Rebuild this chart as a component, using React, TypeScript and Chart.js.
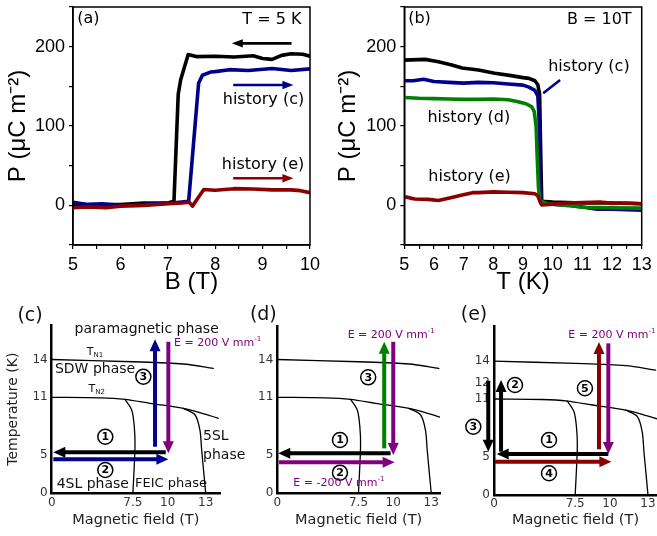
import React, { useEffect, useRef } from 'react';
import { Chart, registerables, LinearScale } from 'chart.js';

Chart.register(...registerables);

// ---------------- DATA ----------------
// Panel (a): P (uC m^-2) versus B (T) at T = 5 K
const A_BLACK_B = [5.0, 5.5, 6.0, 6.5, 7.0, 7.13, 7.22, 7.27, 7.43, 7.6, 8.0, 8.4, 8.8, 9.0, 9.2, 9.4, 9.6, 9.85, 10.0];
const A_BLACK_P = [1, 1, 1, 3, 3, 5, 140, 158, 190, 187.5, 188, 187, 188.5, 185, 184, 189, 191, 190.5, 188];
const A_BLUE_B = [5.0, 5.3, 5.6, 6.0, 6.4, 6.8, 7.1, 7.44, 7.65, 7.73, 7.9, 8.0, 8.3, 8.7, 9.2, 9.6, 10.0];
const A_BLUE_P = [4, 1, 2, 0, 1, 2, 3, 5, 154, 164, 168, 168.5, 171, 170, 172.5, 170, 172];
const A_RED_B = [5.0, 5.3, 5.7, 6.0, 6.5, 7.0, 7.3, 7.45, 7.52, 7.68, 7.76, 8.0, 8.4, 8.8, 9.2, 9.6, 9.8, 10.0];
const A_RED_P = [-3, -2, -3, -1, 0, 2, 3, 4, -1, 13, 20, 19, 21, 20.5, 19.5, 19.5, 18.5, 16];

// Panel (b): P versus T (K) at B = 10 T
const B_BLACK_T = [5.0, 5.7, 6.15, 6.6, 6.95, 7.5, 8.05, 8.6, 9.0, 9.2, 9.4, 9.5, 9.56, 9.6, 9.63, 10.0, 11.0, 12.0, 13.0];
const B_BLACK_P = [183, 184, 181, 177, 173, 170.5, 166.5, 163.5, 161, 160, 157, 152, 140, 60, 5, 4, 3, 3, 2];
const B_BLUE_T = [5.0, 5.3, 5.65, 6.0, 6.5, 7.0, 7.5, 8.0, 8.5, 9.0, 9.2, 9.4, 9.5, 9.54, 9.58, 9.62, 9.8, 10.5, 11.0, 11.5, 12.0, 13.0];
const B_BLUE_P = [157, 157, 159, 156, 155, 154, 155, 154.5, 153, 151.5, 149, 145, 138, 110, 30, 5, 2, 0, -2, -5, -5, -6];
const B_GREEN_T = [5.0, 5.5, 6.0, 6.5, 7.0, 7.5, 8.0, 8.5, 8.8, 9.1, 9.3, 9.38, 9.44, 9.48, 9.52, 9.57, 9.8, 10.5, 11.0, 12.0, 13.0];
const B_GREEN_P = [136, 135, 134.5, 134, 133.5, 133.5, 134, 133, 131, 128, 124, 118, 100, 60, 23, 6, 2, 0, -2.5, -3, -3.5];
const B_RED_T = [5.0, 5.35, 5.8, 6.15, 6.6, 6.95, 7.3, 7.5, 8.0, 8.5, 9.0, 9.4, 9.5, 9.58, 9.63, 10.0, 10.5, 11.0, 11.6, 12.0, 12.5, 13.0];
const B_RED_P = [11, 8, 7.5, 6, 10, 13, 16, 16, 17, 16.5, 16, 14.5, 12, 4, 0.5, 1.5, 3, 3.5, 4, 2.5, 3, 2];

// Phase diagram (schematic), field B (T) vs temperature (K)
const TN1_B = [0, 7.5, 11.23, 13.63];
const TN1_T = [14, 13.79, 13.58, 13.17];
const TN2_B = [0, 4.46, 6.77, 8.73, 11.23, 12.54, 14.05];
const TN2_T = [11, 10.95, 10.79, 10.38, 9.86, 9.41, 8.83];
const FEIC_LOW_B = [6.77, 7.39, 7.6, 7.65, 7.5];
const FEIC_LOW_T = [10.79, 9.69, 7.96, 5.89, 0];
const FEIC_HIGH_B = [11.23, 12.16, 12.54, 12.68, 13];
const FEIC_HIGH_T = [9.86, 9.17, 7.62, 5.55, 0];

// Tick labels
const PHASE_X_TICKS = [0, 7.5, 10, 13];
const PHASE_Y_TICKS = [0, 5, 11, 14];
const PHASE_Y_TICKS_E = [0, 5, 11, 12, 14];

// ---------------- STYLE ----------------
const W = 657;
const H = 536;
const SANS = '"Liberation Sans", Arial, Helvetica, sans-serif';
const DV = '"DejaVu Sans", Verdana, sans-serif';
const BLACK = '#000000';
const NAVY = '#00008b';
const DARKRED = '#8b0000';
const GREEN = '#008000';
const PURPLE = '#800080';

// schematic (non-uniform) axis of the phase diagrams
const X_KNOTS = [[0, 0], [7.5, 81.2], [10, 116], [13, 154], [15, 178]];
const Y_KNOTS = [[0, 0], [5, 38], [11, 96], [12, 112.5], [14, 133.8], [17, 170]];

function pw(k: number[][], v: number, from: number) {
  const to = 1 - from;
  let i = 0;
  while (i < k.length - 2 && v > k[i + 1][from]) i++;
  const a = k[i];
  const b = k[i + 1];
  return a[to] + ((v - a[from]) * (b[to] - a[to])) / (b[from] - a[from]);
}

class PiecewiseScale extends LinearScale {
  static id = 'piecewise';
  getPixelForValue(value: any) {
    if (value === null || value === undefined || Number.isNaN(value)) return NaN;
    const k = (this.options as any).knots;
    const u0 = pw(k, this.min, 0);
    const u1 = pw(k, this.max, 0);
    return this.getPixelForDecimal((pw(k, value, 0) - u0) / (u1 - u0));
  }
  getValueForPixel(pixel: number) {
    const k = (this.options as any).knots;
    const u0 = pw(k, this.min, 0);
    const u1 = pw(k, this.max, 0);
    return pw(k, u0 + this.getDecimalForPixel(pixel) * (u1 - u0), 1);
  }
}
Chart.register(PiecewiseScale as any);

// ---------------- DECORATIONS ----------------
type Part = { t: string; sup?: boolean; sub?: boolean };
type TextSpec = { x: number; y: number; parts: Part[]; size: number; color?: string; align?: 'left' | 'center' | 'right'; bold?: boolean; family?: string };
type ArrowSpec = { x0: number; y0: number; x1: number; y1: number; color: string };
type Decor = {
  frame?: boolean;
  texts?: TextSpec[];
  arrows?: ArrowSpec[];
  arrowStyle: { w: number; hl: number; hw: number };
  circles?: { x: number; y: number; n: string }[];
  segments?: { x0: number; y0: number; x1: number; y1: number; color: string; w: number }[];
};

const txt = (x: number, y: number, s: string, size: number, align: 'left' | 'center' | 'right' = 'left', color = '#111'): TextSpec => ({ x, y, parts: [{ t: s }], size, align, color });

function drawRich(ctx: CanvasRenderingContext2D, x: number, y: number, t: TextSpec) {
  const size = t.size;
  const small = size * 0.64;
  const fam = t.family || DV;
  const weight = t.bold ? 'bold ' : '';
  const fontFor = (p: Part) => `${weight}${p.sup || p.sub ? small : size}px ${fam}`;
  let total = 0;
  const widths = t.parts.map((p) => {
    ctx.font = fontFor(p);
    const w = ctx.measureText(p.t).width;
    total += w;
    return w;
  });
  let cx = t.align === 'center' ? x - total / 2 : t.align === 'right' ? x - total : x;
  ctx.textBaseline = 'middle';
  ctx.textAlign = 'left';
  ctx.fillStyle = t.color || '#000';
  t.parts.forEach((p, i) => {
    ctx.font = fontFor(p);
    const dy = p.sup ? -size * 0.36 : p.sub ? size * 0.3 : 0;
    ctx.fillText(p.t, cx, y + dy);
    cx += widths[i];
  });
}

function drawArrow(ctx: CanvasRenderingContext2D, x0: number, y0: number, x1: number, y1: number, color: string, w: number, hl: number, hw: number) {
  const dx = x1 - x0;
  const dy = y1 - y0;
  const len = Math.hypot(dx, dy) || 1;
  const ux = dx / len;
  const uy = dy / len;
  const bx = x1 - ux * hl;
  const by = y1 - uy * hl;
  ctx.strokeStyle = color;
  ctx.lineWidth = w;
  ctx.lineCap = 'butt';
  ctx.beginPath();
  ctx.moveTo(x0, y0);
  ctx.lineTo(bx + ux, by + uy);
  ctx.stroke();
  ctx.fillStyle = color;
  ctx.beginPath();
  ctx.moveTo(x1, y1);
  ctx.lineTo(bx - uy * hw, by + ux * hw);
  ctx.lineTo(bx + uy * hw, by - ux * hw);
  ctx.closePath();
  ctx.fill();
}

function decorPlugin(d: Decor) {
  return {
    id: 'decor',
    afterDraw(chart: any) {
      const ctx: CanvasRenderingContext2D = chart.ctx;
      const xs = chart.scales.x;
      const ys = chart.scales.y;
      const px = (v: number) => xs.getPixelForValue(v);
      const py = (v: number) => ys.getPixelForValue(v);
      ctx.save();
      if (d.frame) {
        const a = chart.chartArea;
        ctx.strokeStyle = '#000';
        ctx.lineWidth = 1.5;
        ctx.strokeRect(a.left, a.top, a.right - a.left, a.bottom - a.top);
      }
      (d.segments || []).forEach((s) => {
        ctx.strokeStyle = s.color;
        ctx.lineWidth = s.w;
        ctx.beginPath();
        ctx.moveTo(px(s.x0), py(s.y0));
        ctx.lineTo(px(s.x1), py(s.y1));
        ctx.stroke();
      });
      (d.arrows || []).forEach((a) => {
        drawArrow(ctx, px(a.x0), py(a.y0), px(a.x1), py(a.y1), a.color, d.arrowStyle.w, d.arrowStyle.hl, d.arrowStyle.hw);
      });
      (d.circles || []).forEach((c) => {
        const cx = px(c.x);
        const cy = py(c.y);
        ctx.beginPath();
        ctx.arc(cx, cy, 7.5, 0, Math.PI * 2);
        ctx.fillStyle = '#fff';
        ctx.fill();
        ctx.strokeStyle = '#000';
        ctx.lineWidth = 1.5;
        ctx.stroke();
        ctx.fillStyle = '#000';
        ctx.font = `bold 11px ${DV}`;
        ctx.textAlign = 'center';
        ctx.textBaseline = 'middle';
        ctx.fillText(c.n, cx, cy + 0.5);
      });
      (d.texts || []).forEach((t) => drawRich(ctx, px(t.x), py(t.y), t));
      ctx.restore();
    },
  };
}

// ---------------- CONFIG BUILDERS ----------------
type Area = { l: number; t: number; r: number; b: number };

function series(xs: number[], ys: number[], color: string, width: number, tension = 0) {
  return {
    data: xs.map((x, i) => ({ x, y: ys[i] })),
    borderColor: color,
    borderWidth: width,
    pointRadius: 0,
    tension,
    fill: false,
    borderJoinStyle: 'round',
    borderCapStyle: 'round',
  };
}

function topConfig(o: { area: Area; boxLeft: number; xMin: number; xMax: number; xTitle: string; datasets: any[]; decor: Decor }) {
  const { area } = o;
  const tickFont = { family: SANS, size: 18 };
  return {
    type: 'line',
    data: { datasets: o.datasets },
    options: {
      responsive: false,
      animation: false,
      devicePixelRatio: 1,
      events: [],
      layout: { padding: { left: o.boxLeft, top: area.t, right: W - area.r, bottom: H - 300 } },
      plugins: { legend: { display: false }, tooltip: { enabled: false } },
      scales: {
        x: {
          type: 'linear',
          min: o.xMin,
          max: o.xMax,
          ticks: { stepSize: 0.5, autoSkip: false, maxRotation: 0, font: tickFont, color: '#000', padding: 5, callback: (v: number) => (Number.isInteger(v) ? String(v) : '') },
          grid: { drawOnChartArea: false, drawTicks: true, tickLength: 4, color: '#000', lineWidth: 1.2 },
          border: { color: '#000', width: 1.5 },
          title: { display: true, text: o.xTitle, font: { family: SANS, size: 24 }, color: '#000', padding: { top: 0, bottom: 3.6 } },
          afterFit: (s: any) => {
            s.height = 300 - area.b;
            s.paddingLeft = 0;
            s.paddingRight = 0;
          },
        },
        y: {
          type: 'linear',
          min: -50,
          max: 250,
          ticks: { stepSize: 50, autoSkip: false, font: tickFont, color: '#000', padding: 4, callback: (v: number) => (v % 100 === 0 ? String(v) : '') },
          grid: { drawOnChartArea: false, drawTicks: true, tickLength: 4, color: '#000', lineWidth: 1.2 },
          border: { color: '#000', width: 1.5 },
          title: { display: true, text: 'P (μC m⁻²)', font: { family: SANS, size: 24 }, color: '#000', padding: { top: 4, bottom: 0 } },
          afterFit: (s: any) => {
            s.width = area.l - o.boxLeft;
            s.paddingTop = 0;
            s.paddingBottom = 0;
          },
        },
      },
    },
    plugins: [decorPlugin(o.decor)],
  };
}

function phaseDatasets() {
  return [
    series(TN1_B, TN1_T, '#000', 1.3, 0.3),
    series(TN2_B, TN2_T, '#000', 1.3, 0.3),
    series(FEIC_LOW_B, FEIC_LOW_T, '#000', 1.3, 0.3),
    series(FEIC_HIGH_B, FEIC_HIGH_T, '#000', 1.3, 0.3),
  ];
}

function phaseConfig(o: { area: Area; boxLeft: number; xMax: number; yMax: number; yTicks: number[]; yTitle?: string; decor: Decor }) {
  const { area } = o;
  const tickFont = { family: DV, size: 12 };
  return {
    type: 'line',
    data: { datasets: phaseDatasets() },
    options: {
      responsive: false,
      animation: false,
      devicePixelRatio: 1,
      events: [],
      layout: { padding: { left: o.boxLeft, top: area.t, right: W - area.r, bottom: H - 532 } },
      plugins: { legend: { display: false }, tooltip: { enabled: false } },
      scales: {
        x: {
          type: 'piecewise',
          knots: X_KNOTS,
          min: 0,
          max: o.xMax,
          afterBuildTicks: (s: any) => {
            s.ticks = PHASE_X_TICKS.map((v) => ({ value: v }));
          },
          ticks: { autoSkip: false, maxRotation: 0, font: tickFont, color: '#333', padding: 2 },
          grid: { display: false, drawTicks: false },
          border: { color: '#000', width: 2.5 },
          title: { display: true, text: 'Magnetic field (T)', font: { family: DV, size: 14.5 }, color: '#222', padding: { top: 0, bottom: 3 } },
          afterFit: (s: any) => {
            s.height = 532 - area.b;
            s.paddingLeft = 0;
            s.paddingRight = 0;
          },
        },
        y: {
          type: 'piecewise',
          knots: Y_KNOTS,
          min: 0,
          max: o.yMax,
          afterBuildTicks: (s: any) => {
            s.ticks = o.yTicks.map((v) => ({ value: v }));
          },
          ticks: { autoSkip: false, font: tickFont, color: '#333', padding: 4 },
          grid: { display: false, drawTicks: false },
          border: { color: '#000', width: 2.5 },
          title: { display: !!o.yTitle, text: o.yTitle || '', font: { family: DV, size: 14 }, color: '#222', padding: { top: 5, bottom: 0 } },
          afterFit: (s: any) => {
            s.width = area.l - o.boxLeft;
            s.paddingTop = 0;
            s.paddingBottom = 0;
          },
        },
      },
    },
    plugins: [decorPlugin(o.decor)],
  };
}

const TOP_ARROW = { w: 2.6, hl: 11, hw: 4.2 };
const PHASE_ARROW = { w: 4, hl: 12, hw: 5.5 };
const eLabel = (x: number, y: number, s: string): TextSpec => ({ x, y, parts: [{ t: s }, { t: '-1', sup: true }], size: 11, color: PURPLE, align: 'left' });
const tN = (x: number, y: number, n: string): TextSpec => ({ x, y, parts: [{ t: 'T' }, { t: n, sub: true }], size: 11, color: '#111', align: 'center' });

const makeA = () =>
  topConfig({
    area: { l: 73, t: 7, r: 310, b: 245 },
    boxLeft: 0,
    xMin: 5,
    xMax: 10,
    xTitle: 'B (T)',
    datasets: [series(A_RED_B, A_RED_P, DARKRED, 3.6), series(A_BLUE_B, A_BLUE_P, NAVY, 3.6), series(A_BLACK_B, A_BLACK_P, BLACK, 3.6)],
    decor: {
      frame: true,
      arrowStyle: TOP_ARROW,
      arrows: [
        { x0: 9.61, y0: 204.2, x1: 8.35, y1: 204.2, color: BLACK },
        { x0: 8.38, y0: 151.7, x1: 9.65, y1: 151.7, color: NAVY },
        { x0: 8.38, y0: 34.1, x1: 9.65, y1: 34.1, color: DARKRED },
      ],
      texts: [
        txt(5.09, 235, '(a)', 16, 'left', '#000'),
        txt(9.82, 233.6, 'T = 5 K', 16, 'right', '#000'),
        txt(8.16, 132.8, 'history (c)', 16, 'left', '#000'),
        txt(8.14, 50.8, 'history (e)', 16, 'left', '#000'),
      ],
    },
  });

const makeB = () =>
  topConfig({
    area: { l: 404.3, t: 7, r: 641.7, b: 245 },
    boxLeft: 330,
    xMin: 5,
    xMax: 13,
    xTitle: 'T (K)',
    datasets: [
      series(B_RED_T, B_RED_P, DARKRED, 3.6),
      series(B_GREEN_T, B_GREEN_P, GREEN, 3.6),
      series(B_BLUE_T, B_BLUE_P, NAVY, 3.6),
      series(B_BLACK_T, B_BLACK_P, BLACK, 3.6),
    ],
    decor: {
      frame: true,
      arrowStyle: TOP_ARROW,
      segments: [{ x0: 9.68, y0: 141.2, x1: 10.25, y1: 158, color: NAVY, w: 2.6 }],
      texts: [
        txt(5.13, 235, '(b)', 16, 'left', '#000'),
        txt(12.66, 233.6, 'B = 10T', 16, 'right', '#000'),
        txt(9.85, 174.7, 'history (c)', 16, 'left', '#000'),
        txt(5.78, 109.7, 'history (d)', 16, 'left', '#000'),
        txt(5.81, 36.1, 'history (e)', 16, 'left', '#000'),
      ],
    },
  });

const makeC = () =>
  phaseConfig({
    area: { l: 51.7, t: 325, r: 220, b: 493.3 },
    boxLeft: 0,
    xMax: 14.19,
    yMax: 16.86,
    yTicks: PHASE_Y_TICKS,
    yTitle: 'Temperature (K)',
    decor: {
      arrowStyle: PHASE_ARROW,
      arrows: [
        { x0: 9.86, y0: 5.31, x1: 0.15, y1: 5.31, color: BLACK },
        { x0: 0.15, y0: 4.47, x1: 10.05, y1: 4.47, color: NAVY },
        { x0: 9.09, y0: 5.89, x1: 9.09, y1: 15.67, color: NAVY },
        { x0: 10.05, y0: 15.47, x1: 10.05, y1: 5.21, color: PURPLE },
      ],
      circles: [
        { x: 4.95, y: 6.92, n: '1' },
        { x: 4.95, y: 3.07, n: '2' },
        { x: 8.25, y: 12.38, n: '3' },
      ],
      texts: [
        txt(-2.0, 17.6, '(c)', 19, 'center', '#111'),
        txt(8.49, 16.53, 'paramagnetic phase', 14, 'center'),
        tN(4.0, 14.65, 'N1'),
        txt(0.3, 13.1, 'SDW phase', 14, 'left'),
        tN(4.16, 11.5, 'N2'),
        txt(12.79, 6.92, '5SL', 14, 'left'),
        txt(12.79, 5.03, 'phase', 14, 'left'),
        txt(0.46, 1.22, '4SL phase', 14, 'left'),
        txt(7.65, 1.22, 'FEIC phase', 13, 'left'),
        eLabel(10.5, 15.34, 'E = 200 V mm'),
      ],
    },
  });

const makeD = () =>
  phaseConfig({
    area: { l: 277.3, t: 326.7, r: 440, b: 493.3 },
    boxLeft: 230,
    xMax: 13.73,
    yMax: 16.72,
    yTicks: PHASE_Y_TICKS,
    decor: {
      arrowStyle: PHASE_ARROW,
      arrows: [
        { x0: 9.81, y0: 5.21, x1: 0.09, y1: 5.21, color: BLACK },
        { x0: 0.16, y0: 4.08, x1: 10.11, y1: 4.08, color: PURPLE },
        { x0: 9.35, y0: 5.72, x1: 9.35, y1: 15.47, color: GREEN },
        { x0: 10.0, y0: 15.47, x1: 10.0, y1: 5.03, color: PURPLE },
      ],
      circles: [
        { x: 5.79, y: 6.58, n: '1' },
        { x: 5.79, y: 2.71, n: '2' },
        { x: 8.2, y: 12.33, n: '3' },
      ],
      texts: [
        txt(-1.29, 17.69, '(d)', 19, 'center', '#111'),
        eLabel(6.5, 16.03, 'E = 200 V mm'),
        eLabel(1.48, 1.32, 'E = -200 V mm'),
      ],
    },
  });

const makeE = () =>
  phaseConfig({
    area: { l: 494, t: 326.7, r: 657, b: 495 },
    boxLeft: 450,
    xMax: 13.75,
    yMax: 16.86,
    yTicks: PHASE_Y_TICKS_E,
    decor: {
      arrowStyle: PHASE_ARROW,
      arrows: [
        { x0: -0.53, y0: 12.17, x1: -0.53, y1: 5.55, color: BLACK },
        { x0: 0.65, y0: 5.55, x1: 0.65, y1: 12.23, color: BLACK },
        { x0: 9.88, y0: 5.31, x1: 0.25, y1: 5.31, color: BLACK },
        { x0: 0.09, y0: 4.38, x1: 10.11, y1: 4.38, color: DARKRED },
        { x0: 9.21, y0: 5.8, x1: 9.21, y1: 15.6, color: DARKRED },
        { x0: 9.88, y0: 15.48, x1: 9.88, y1: 5.31, color: PURPLE },
      ],
      circles: [
        { x: 5.08, y: 6.76, n: '1' },
        { x: 1.94, y: 11.85, n: '2' },
        { x: -1.91, y: 8.13, n: '3' },
        { x: 5.08, y: 2.86, n: '4' },
        { x: 8.2, y: 11.65, n: '5' },
      ],
      texts: [
        txt(-1.85, 17.83, '(e)', 19, 'center', '#111'),
        eLabel(6.86, 16.17, 'E = 200 V mm'),
      ],
    },
  });

function ChartCanvas({ make }: { make: () => any }) {
  const ref = useRef<HTMLCanvasElement>(null);
  useEffect(() => {
    const chart = new Chart(ref.current as HTMLCanvasElement, make());
    return () => chart.destroy();
  }, []);
  return <canvas ref={ref} width={W} height={H} style={{ position: 'absolute', left: 0, top: 0, width: W, height: H }} />;
}

export default function App() {
  return (
    <div style={{ position: 'absolute', left: 0, top: 0, width: W, height: H, background: '#fff', overflow: 'hidden' }}>
      <ChartCanvas make={makeA} />
      <ChartCanvas make={makeB} />
      <ChartCanvas make={makeC} />
      <ChartCanvas make={makeD} />
      <ChartCanvas make={makeE} />
    </div>
  );
}
